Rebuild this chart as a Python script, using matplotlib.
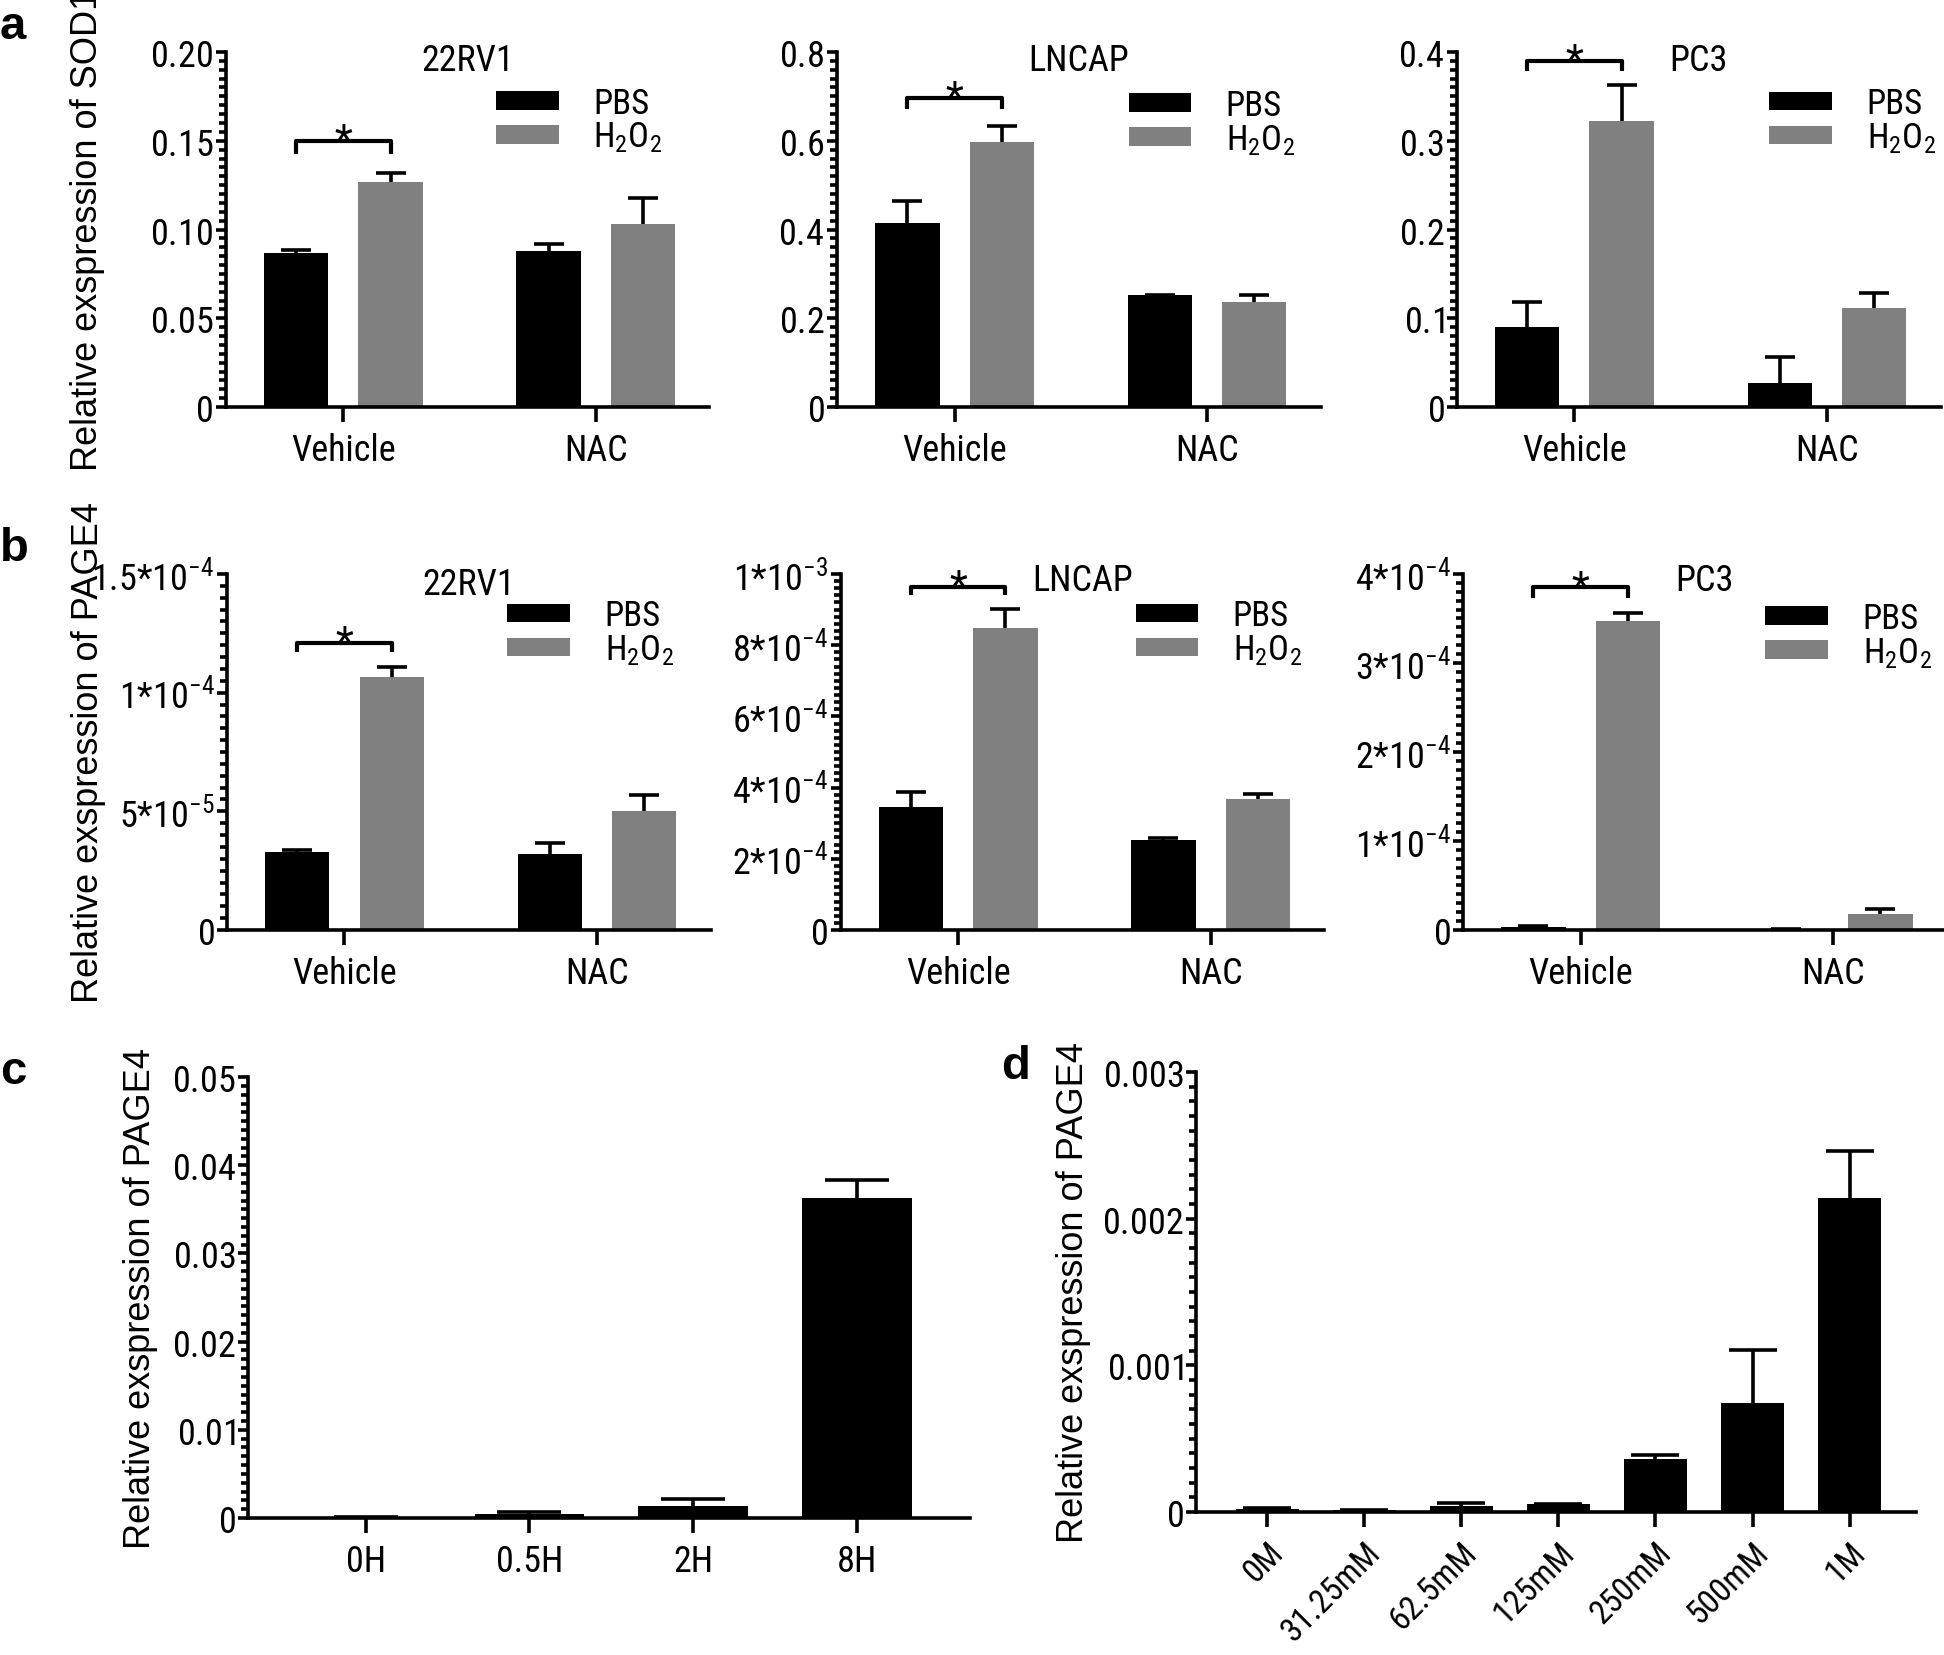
import numpy as np
import matplotlib
matplotlib.use("Agg")
import matplotlib.pyplot as plt
from matplotlib import font_manager
from matplotlib.ticker import MultipleLocator, FixedLocator, FixedFormatter

# narrow font for ticks, like the GraphPad original (pick whatever condensed sans is there)
names = sorted({f.name for f in font_manager.fontManager.ttflist})
narrow = 'Liberation Sans'
for pref in ['Liberation Sans Narrow', 'Arial Narrow', 'Roboto Condensed', 'Open Sans Condensed']:
    if pref in names:
        narrow = pref
        break
else:
    for n in names:
        if ('Narrow' in n or 'Condensed' in n) and 'Mono' not in n and 'Serif' not in n:
            narrow = n
            break

plt.rcParams['font.family'] = [narrow, 'Liberation Sans', 'DejaVu Sans']
plt.rcParams['mathtext.fontset'] = 'custom'
plt.rcParams['mathtext.rm'] = narrow

# ---- data ----
groups = ['Vehicle', 'NAC']
cell_lines = ['22RV1', 'LNCAP', 'PC3']

sod1_pbs = [[0.087, 0.088], [0.415, 0.252], [0.090, 0.027]]
sod1_pbs_err = [[0.0017, 0.004], [0.05, 0.001], [0.028, 0.029]]
sod1_h2o2 = [[0.127, 0.103], [0.597, 0.236], [0.322, 0.112]]
sod1_h2o2_err = [[0.005, 0.015], [0.036, 0.016], [0.041, 0.017]]

page4_pbs = [[3.3e-5, 3.2e-5], [3.46e-4, 2.53e-4], [3.0e-6, 1.0e-6]]
page4_pbs_err = [[0.8e-6, 4.7e-6], [4.2e-5, 0.5e-5], [1.0e-6, 0.0]]
page4_h2o2 = [[1.066e-4, 5.0e-5], [8.48e-4, 3.68e-4], [3.47e-4, 1.8e-5]]
page4_h2o2_err = [[4.2e-6, 6.8e-6], [5.4e-5, 1.4e-5], [9e-6, 5.6e-6]]

time_labels = ['0H', '0.5H', '2H', '8H']
time_vals = [0.0001, 0.00046, 0.00139, 0.0363]
time_err = [0.0, 0.00023, 0.00073, 0.002]

dose_labels = ['0M', '31.25mM', '62.5mM', '125mM', '250mM', '500mM', '1M']
dose_vals = [2.2e-5, 1.4e-5, 4.2e-5, 5.5e-5, 3.6e-4, 7.42e-4, 2.14e-3]
dose_err = [0.8e-5, 0.0, 2.2e-5, 0.0, 2.8e-5, 3.6e-4, 3.2e-4]

# y axis ticks per panel (major positions, labels, minor step)
sod1_ticks = [
    ([0, 0.05, 0.10, 0.15, 0.20], ['0', '0.05', '0.10', '0.15', '0.20'], 0.005),
    ([0, 0.2, 0.4, 0.6, 0.8], ['0', '0.2', '0.4', '0.6', '0.8'], 0.02),
    ([0, 0.1, 0.2, 0.3, 0.4], ['0', '0.1', '0.2', '0.3', '0.4'], 0.01),
]
page4_ticks = [
    ([0, 5e-5, 1e-4, 1.5e-4], ['0', '5{*}10^{-5}', '1{*}10^{-4}', '1.5{*}10^{-4}'], 5e-6),
    ([0, 2e-4, 4e-4, 6e-4, 8e-4, 1e-3],
     ['0', '2{*}10^{-4}', '4{*}10^{-4}', '6{*}10^{-4}', '8{*}10^{-4}', '1{*}10^{-3}'], 2e-5),
    ([0, 1e-4, 2e-4, 3e-4, 4e-4],
     ['0', '1{*}10^{-4}', '2{*}10^{-4}', '3{*}10^{-4}', '4{*}10^{-4}'], 1e-5),
]
time_ticks = ([0, 0.01, 0.02, 0.03, 0.04, 0.05], ['0', '0.01', '0.02', '0.03', '0.04', '0.05'], 0.001)
dose_ticks = ([0, 0.001, 0.002, 0.003], ['0', '0.001', '0.002', '0.003'], 0.0001)

# significance brackets (line level, end level)
sod1_sig = [(0.150, 0.1425), (0.696, 0.672), (0.390, 0.379)]
page4_sig = [(1.21e-4, 1.17e-4), (0.963e-3, 0.94e-3), (3.85e-4, 3.73e-4)]

BLACK = '#000000'
GRAY = '#808080'
FS = 26
LW = 2.6

fig = plt.figure(figsize=(19.44, 16.56), dpi=100)


def style_axis(ax, ticks):
    majors, labels, minor = ticks
    ax.set_ylim(0, majors[-1])
    ax.yaxis.set_major_locator(FixedLocator(majors))
    ax.yaxis.set_major_formatter(FixedFormatter(['$\\mathregular{%s}$' % l for l in labels]))
    ax.yaxis.set_minor_locator(MultipleLocator(minor))
    for s in ['top', 'right']:
        ax.spines[s].set_visible(False)
    for s in ['left', 'bottom']:
        ax.spines[s].set_linewidth(LW)
    ax.tick_params(axis='y', which='major', direction='out', length=7, width=LW,
                   labelsize=FS, pad=2)
    ax.tick_params(axis='y', which='minor', direction='out', length=5, width=LW)
    ax.tick_params(axis='x', which='major', direction='out', length=11, width=LW,
                   labelsize=FS, pad=7)


def up_errorbar(ax, x, vals, err, capsize):
    # one-sided (upward) error bars, no cap at the bar top
    eb = ax.errorbar(x, vals, yerr=[np.zeros(len(x)), err], fmt='none', ecolor=BLACK,
                     elinewidth=LW, capsize=capsize, capthick=LW, zorder=3)
    eb[1][0].set_visible(False)


def grouped_panel(ax, pbs, pbs_err, h2o2, h2o2_err, ticks, title, sig, leg_xy, title_y):
    x = np.arange(len(groups))
    off, w = 0.187, 0.255
    ax.bar(x - off, pbs, w, color=BLACK, label='PBS', zorder=2)
    ax.bar(x + off, h2o2, w, color=GRAY, label='$\\mathregular{H_2O_2}$', zorder=2)
    up_errorbar(ax, x - off, pbs, pbs_err, 11)
    up_errorbar(ax, x + off, h2o2, h2o2_err, 11)
    ax.set_xlim(-0.466, 1.45)
    ax.set_xticks(x)
    ax.set_xticklabels(groups)
    style_axis(ax, ticks)
    ax.text(0.5, title_y, title, transform=ax.transAxes, ha='center', va='center', fontsize=FS)
    y, yend = sig
    ax.plot([x[0] - off, x[0] - off, x[0] + off, x[0] + off], [yend, y, y, yend],
            color=BLACK, lw=3, solid_capstyle='butt', clip_on=False)
    ax.text(x[0], y, '*', ha='center', va='center', fontsize=30, clip_on=False)
    ax.legend(loc='center left', bbox_to_anchor=leg_xy, frameon=False, fontsize=25,
              handlelength=1.8, handleheight=0.45, handletextpad=1.0, labelspacing=0.0,
              borderpad=0, borderaxespad=0)


# row a / row b axes rects
row_a = [[0.1161, 0.7536, 0.2488, 0.2144], [0.4305, 0.7536, 0.2488, 0.2144],
         [0.7494, 0.7536, 0.2488, 0.2144]]
row_b = [[0.1167, 0.4378, 0.2488, 0.2150], [0.4324, 0.4378, 0.2488, 0.2150],
         [0.7526, 0.4378, 0.2488, 0.2150]]
leg_a = [(0.559, 0.807), (0.603, 0.80), (0.646, 0.805)]
leg_b = [(0.58, 0.834), (0.61, 0.834), (0.625, 0.826)]

for i in range(3):
    ax = fig.add_axes(row_a[i])
    grouped_panel(ax, sod1_pbs[i], sod1_pbs_err[i], sod1_h2o2[i], sod1_h2o2_err[i],
                  sod1_ticks[i], cell_lines[i], sod1_sig[i], leg_a[i], 0.977)
    if i == 0:
        ax.set_ylabel('Relative exspression of SOD1', family='Liberation Sans', fontsize=26)
        ax.yaxis.set_label_coords(-0.25, 0.5)

for i in range(3):
    ax = fig.add_axes(row_b[i])
    grouped_panel(ax, page4_pbs[i], page4_pbs_err[i], page4_h2o2[i], page4_h2o2_err[i],
                  page4_ticks[i], cell_lines[i], page4_sig[i], leg_b[i],
                  0.972 if i == 0 else 0.983)
    if i == 0:
        ax.set_ylabel('Relative exspression of PAGE4', family='Liberation Sans', fontsize=26)
        ax.yaxis.set_label_coords(-0.25, 0.5)

# panel c
axc = fig.add_axes([0.1276, 0.0827, 0.3712, 0.2663])
xc = np.arange(len(time_labels))
axc.bar(xc, time_vals, 0.67, color=BLACK, zorder=2)
up_errorbar(axc, xc, time_vals, time_err, 23)
axc.set_xlim(-0.72, 3.69)
axc.set_xticks(xc)
axc.set_xticklabels(time_labels)
style_axis(axc, time_ticks)
axc.set_ylabel('Relative exspression of PAGE4', family='Liberation Sans', fontsize=26)
axc.yaxis.set_label_coords(-0.125, 0.5)

# panel d
axd = fig.add_axes([0.6154, 0.0864, 0.370, 0.2657])
xd = np.arange(len(dose_labels))
axd.bar(xd, dose_vals, 0.65, color=BLACK, zorder=2)
up_errorbar(axd, xd, dose_vals, dose_err, 17)
axd.set_xlim(-0.73, 6.68)
axd.set_xticks(xd)
axd.set_xticklabels(dose_labels, rotation=45, ha='right', rotation_mode='anchor')
style_axis(axd, dose_ticks)
axd.tick_params(axis='x', pad=6, labelsize=24)
axd.set_ylabel('Relative exspression of PAGE4', family='Liberation Sans', fontsize=26)
axd.yaxis.set_label_coords(-0.147, 0.5)

# panel letters
for letter, px, py in [('a', 0.0, 0.997), ('b', 0.0, 0.682), ('c', 0.0, 0.366), ('d', 0.515, 0.369)]:
    fig.text(px, py, letter, ha='left', va='top', fontsize=34, fontweight='bold',
             family='Liberation Sans')

fig.savefig('out.png', dpi=100)
